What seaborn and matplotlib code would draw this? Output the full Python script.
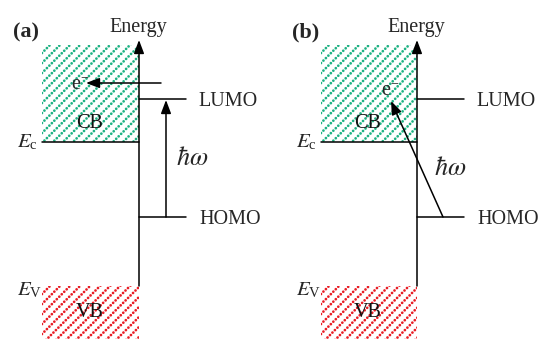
import matplotlib
matplotlib.use('Agg')
import matplotlib.pyplot as plt
import seaborn as sns
import numpy as np
import pandas as pd
from matplotlib.patches import Rectangle

sns.set_theme(style='white')
plt.rcParams['font.family'] = ['Liberation Serif', 'DejaVu Serif']
plt.rcParams['mathtext.fontset'] = 'stix'

# ---- diagram content ----
panel_labels = ['(a)', '(b)']
axis_x = [139, 417]          # energy axis per panel
band_left = [42, 321]
level_names = ['LUMO', 'HOMO']
level_y = [99, 217]
level_len = 47
band_names = ['CB', 'VB']
band_top = [45, 286]
band_bottom = [142, 339]
band_colors = ['#1fb283', '#e81e26']
edge_labels = [r'$E_{\mathregular{c}}$', r'$E_{\mathregular{V}}$']
axis_top = 40

W, H = 541, 339
fig = plt.figure(figsize=(W / 100, H / 100), dpi=100)
ax = fig.add_axes([0, 0, 1, 1])

FS = 14.5
lw = 1.1
arrow_style = '-|>,head_length=0.45,head_width=0.17'

# level lines via seaborn
rows = []
for p, ax_x in enumerate(axis_x):
    for name, y in zip(level_names, level_y):
        rows.append(dict(x=ax_x, y=y, u=f'{p}{name}'))
        rows.append(dict(x=ax_x + level_len, y=y, u=f'{p}{name}'))
df = pd.DataFrame(rows)
sns.lineplot(data=df, x='x', y='y', units='u', estimator=None, color='black',
             lw=lw, ax=ax, legend=False, sort=False)
ax.set_xlim(0, W)
ax.set_ylim(H, 0)
ax.axis('off')

for p, (ax_x, bl) in enumerate(zip(axis_x, band_left)):
    # bands with dotted diagonal stripes
    for b in range(2):
        x0, x1 = bl, ax_x
        y0, y1 = band_top[b], band_bottom[b]
        rect = Rectangle((x0, y0), x1 - x0, y1 - y0, facecolor='none', edgecolor='none')
        ax.add_patch(rect)
        step = 10
        cs = np.arange(x0 + y0 - 2, x1 + y1 + step, step)
        for c in cs:
            xs = np.array([x0 - 5, x1 + 5])
            ys = c - xs
            ln, = ax.plot(xs, ys, color=band_colors[b], lw=2.0,
                          ls=(0, (0.01, 1.25)), dash_capstyle='round')
            ln.set_clip_path(rect)
        ax.text((x0 + x1) / 2 - 1, [128, 317][b], band_names[b], fontsize=FS,
                ha='center', va='baseline', color='#111111')
    # Ec line
    ax.plot([bl, ax_x], [band_bottom[0], band_bottom[0]], color='black', lw=lw)
    # energy axis
    ax.plot([ax_x, ax_x], [band_top[1], axis_top + 8], color='black', lw=lw)
    ax.annotate('', xy=(ax_x, axis_top), xytext=(ax_x, axis_top + 12),
                arrowprops=dict(arrowstyle=arrow_style, mutation_scale=18,
                                color='black', lw=lw, shrinkA=0, shrinkB=0))
    ax.text(ax_x - 1, 32, 'Energy', fontsize=FS, ha='center', va='baseline')
    ax.text(bl - 29, 37, panel_labels[p], fontsize=16, fontweight='bold',
            ha='left', va='baseline')
    # level labels
    for name, y, dx in zip(level_names, level_y, [59, 60]):
        ax.text(ax_x + dx, y + 6.5, name, fontsize=FS, ha='left', va='baseline')
    # band edge labels
    ax.text(bl - 25, 147, edge_labels[0], fontsize=15, ha='left', va='baseline')
    ax.text(bl - 25, 295, edge_labels[1], fontsize=15, ha='left', va='baseline')

# transitions
arrow_kw = dict(arrowstyle=arrow_style, mutation_scale=18, color='black',
                lw=lw, shrinkA=0, shrinkB=0)
# (a) vertical excitation and transfer
ax.annotate('', xy=(166, level_y[0] + 1), xytext=(166, level_y[1]), arrowprops=arrow_kw)
ax.annotate('', xy=(86, 83), xytext=(161, 83), arrowprops=arrow_kw)
# (b) direct excitation into CB
ax.annotate('', xy=(391, 101), xytext=(443, level_y[1]), arrowprops=arrow_kw)

ax.text(192, 165, r'$\hbar\omega$', fontsize=19, ha='center', va='baseline')
ax.text(450, 175, r'$\hbar\omega$', fontsize=19, ha='center', va='baseline')
ax.text(71, 90, r'$\mathregular{e^{-}}$', fontsize=FS, ha='left', va='baseline')
ax.text(381, 96, r'$\mathregular{e^{-}}$', fontsize=FS, ha='left', va='baseline')

fig.savefig('out.png', dpi=100)
